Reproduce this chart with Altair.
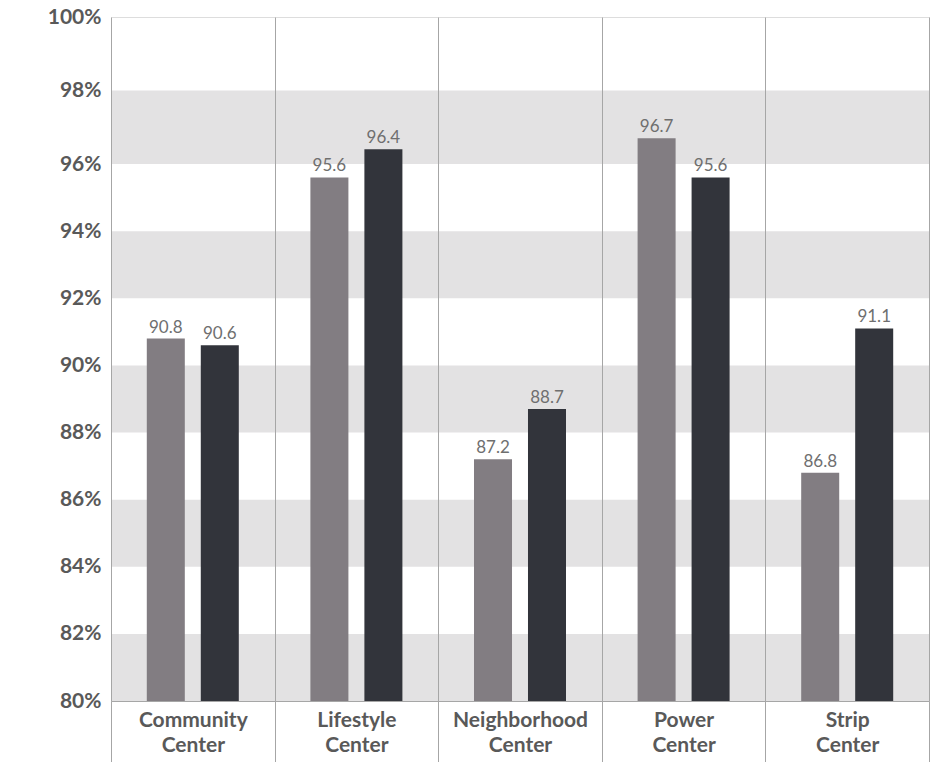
import altair as alt
import pandas as pd

categories = ["Community\nCenter", "Lifestyle\nCenter", "Neighborhood\nCenter", "Power\nCenter", "Strip\nCenter"]
series_names = ["Series A", "Series B"]
series_a = [90.8, 95.6, 87.2, 96.7, 86.8]
series_b = [90.6, 96.4, 88.7, 95.6, 91.1]
band_starts = [80, 84, 88, 92, 96]
y_ticks = [80, 82, 84, 86, 88, 90, 92, 94, 96, 98, 100]

rows = []
for c, a, b in zip(categories, series_a, series_b):
    rows.append({"cat": c, "series": series_names[0], "value": a})
    rows.append({"cat": c, "series": series_names[1], "value": b})
df = pd.DataFrame(rows)
bands = pd.DataFrame({"start": band_starts, "end": [s + 2 for s in band_starts]})

FONT = "Lato"
W, H = 818, 684

yscale = alt.Scale(domain=[80, 96, 100], range=[H, 147, 0], zero=False, nice=False)

xenc = alt.X("cat:N", sort=categories, title=None,
             scale=alt.Scale(paddingInner=0, paddingOuter=0),
             axis=alt.Axis(tickBand="extent", grid=True, gridColor="#A6A6A6", gridWidth=1,
                           ticks=True, tickColor="#A6A6A6", tickSize=61, tickWidth=1,
                           domain=True, domainColor="#A6A6A6", domainWidth=1,
                           labelAngle=0, labelPadding=-53, labelFont=FONT, labelFontWeight="bold",
                           labelFontSize=21, labelColor="#595959", labelLineHeight=25,
                           labelBaseline="top",
                           labelExpr="split(datum.label, '\\n')", zindex=1))

xoff = alt.XOffset("series:N", sort=series_names,
                   scale=alt.Scale(paddingInner=0.296, paddingOuter=0.663))

color = alt.Color("series:N", sort=series_names, legend=None,
                  scale=alt.Scale(domain=series_names, range=["#827D82", "#32343B"]))

band_layer = alt.Chart(bands).mark_rect(color="#E3E2E3").encode(
    y=alt.Y("start:Q", scale=yscale, title=None,
            axis=alt.Axis(values=y_ticks, labelExpr="datum.value + '%'", ticks=False, domain=False,
                          grid=False, labelFont=FONT, labelFontWeight="bold", labelFontSize=21,
                          labelColor="#595959", labelPadding=10)),
    y2="end:Q",
)

bars = alt.Chart(df).mark_bar().encode(
    x=xenc,
    xOffset=xoff,
    y=alt.Y("value:Q", scale=yscale),
    y2=alt.datum(80),
    color=color,
)

labels = alt.Chart(df).mark_text(baseline="bottom", dy=-2, font=FONT, fontSize=17,
                                  color="#6F6F6F").encode(
    x=xenc,
    xOffset=xoff,
    y=alt.Y("value:Q", scale=yscale),
    text=alt.Text("value:Q", format=".1f"),
)

chart = alt.layer(band_layer, bars, labels).properties(
    width=W, height=H,
    autosize=alt.AutoSizeParams(type="none"),
    padding={"left": 111, "top": 17, "right": 6, "bottom": 61},
).configure_view(stroke=None).configure(background="white")

chart.save("out.html", embed_options={"renderer": "svg", "actions": False})
